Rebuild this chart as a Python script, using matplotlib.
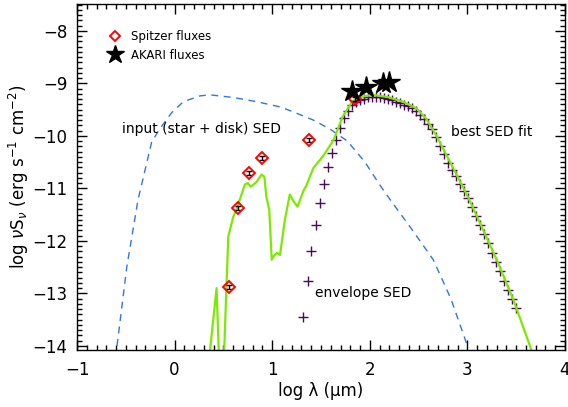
import numpy as np
import matplotlib
matplotlib.use("Agg")
import matplotlib.pyplot as plt
from matplotlib.ticker import MultipleLocator

plt.rcParams['font.family'] = ['DejaVu Sans']
plt.rcParams['mathtext.fontset'] = 'dejavusans'

# input (star + disk) SED, blue dashed
input_x = [-0.59, -0.49, -0.375, -0.235, -0.16, -0.03, 0.09, 0.26, 0.36, 0.60, 0.84,
           1.08, 1.21, 1.42, 1.59, 1.77, 1.95, 2.10, 2.21, 2.43, 2.65, 2.83, 3.0]
input_y = [-14.0, -12.5, -11.22, -10.12, -9.89, -9.56, -9.35, -9.24, -9.22, -9.27, -9.35,
           -9.45, -9.54, -9.70, -9.87, -10.10, -10.50, -10.93, -11.22, -11.78, -12.36, -13.1, -14.0]

# best SED fit, green
fit_x = [0.34, 0.43, 0.46, 0.50, 0.55, 0.60, 0.64, 0.68, 0.72, 0.75, 0.78, 0.84, 0.89,
         0.92, 0.94, 0.97, 0.995, 1.02, 1.05, 1.08, 1.13, 1.18, 1.22, 1.26, 1.32, 1.35,
         1.42, 1.52, 1.63, 1.72, 1.82, 1.90, 2.03, 2.18, 2.34, 2.48, 2.58, 2.68, 2.85,
         3.02, 3.16, 3.30, 3.47, 3.66]
fit_y = [-14.5, -12.9, -14.5, -14.5, -11.92, -11.55, -11.37, -11.15, -10.93, -10.90, -10.97,
         -10.88, -10.74, -10.78, -11.16, -11.41, -12.36, -12.28, -12.23, -12.27, -11.60, -11.12,
         -11.25, -11.35, -11.05, -10.95, -10.62, -10.39, -10.08, -9.64, -9.35, -9.26, -9.22,
         -9.26, -9.35, -9.48, -9.68, -9.99, -10.60, -11.22, -11.79, -12.36, -13.12, -14.1]

# envelope SED, purple crosses
env_x = [1.320, 1.362, 1.402, 1.444, 1.485, 1.526, 1.567, 1.608, 1.650, 1.691,
         1.732, 1.773, 1.814, 1.856, 1.897, 1.938, 1.979, 2.020, 2.062, 2.103,
         2.144, 2.185, 2.226, 2.268, 2.309, 2.350, 2.391, 2.432, 2.474, 2.515,
         2.556, 2.597, 2.638, 2.680, 2.721, 2.762, 2.803, 2.844, 2.886, 2.927,
         2.968, 3.009, 3.050, 3.091, 3.132, 3.174, 3.215, 3.256, 3.297, 3.338,
         3.380, 3.421, 3.462, 3.503]
env_y = [-13.45, -12.76, -12.19, -11.70, -11.28, -10.91, -10.59, -10.32, -10.08, -9.85,
         -9.67, -9.53, -9.42, -9.35, -9.31, -9.29, -9.27, -9.26, -9.26, -9.27,
         -9.28, -9.30, -9.32, -9.35, -9.38, -9.41, -9.44, -9.48, -9.53, -9.60,
         -9.68, -9.77, -9.88, -10.02, -10.19, -10.35, -10.51, -10.65, -10.77, -10.91,
         -11.06, -11.19, -11.35, -11.52, -11.70, -11.88, -12.05, -12.23, -12.40, -12.58,
         -12.76, -12.93, -13.11, -13.28]

# Spitzer fluxes
spitzer_x = [0.557, 0.65, 0.76, 0.895, 1.38, 1.85]
spitzer_y = [-12.88, -11.37, -10.71, -10.42, -10.08, -9.30]
spitzer_err = [0.04, 0.04, 0.04, 0.04, 0.04, 0.04]

# AKARI fluxes
akari_x = [1.82, 1.96, 2.14, 2.20]
akari_y = [-9.14, -9.08, -8.99, -8.97]

fig = plt.figure(figsize=(5.68, 4.07), dpi=100)
ax = fig.add_axes([77/568, 57/407, 488/568, 346/407])

ax.plot(input_x, input_y, color='#2f74f0', lw=1.0, dashes=(5, 4))
ax.plot(env_x, env_y, ls='none', marker='+', ms=7, mew=1.0, color='#4a0a5e')
ax.plot(fit_x, fit_y, color='#7cea00', lw=1.6)
ax.errorbar(spitzer_x, spitzer_y, yerr=spitzer_err, fmt='none', ecolor='black',
            elinewidth=1.0, capsize=2, capthick=1.0, zorder=4)
ax.plot(spitzer_x, spitzer_y, ls='none', marker='D', ms=6, mfc='none', mec='red', mew=1.4,
        label='Spitzer fluxes', zorder=5)
ax.plot(akari_x, akari_y, ls='none', marker='*', ms=16, color='black',
        label='AKARI fluxes', zorder=6)

ax.text(0.28, -9.88, 'input (star + disk) SED', fontsize=10, ha='center', va='center')
ax.text(3.25, -9.92, 'best SED fit', fontsize=10, ha='center', va='center')
ax.text(1.93, -12.99, 'envelope SED', fontsize=10, ha='center', va='center')

ax.legend(loc='upper left', bbox_to_anchor=(0.045, 0.955), frameon=False, fontsize=8.5,
          numpoints=1, handlelength=1.0, handletextpad=0.8, labelspacing=0.45, markerscale=0.85)

ax.set_xlim(-1, 4)
ax.set_ylim(-14.08, -7.49)
ax.xaxis.set_major_locator(MultipleLocator(1))
ax.xaxis.set_minor_locator(MultipleLocator(0.1))
ax.yaxis.set_major_locator(MultipleLocator(1))
ax.yaxis.set_minor_locator(MultipleLocator(0.1))
ax.tick_params(which='both', direction='in', top=True, right=True, labelsize=12, width=1.0)
ax.tick_params(which='major', length=7)
ax.tick_params(which='minor', length=3.5)
ax.tick_params(axis='x', pad=8)
ax.tick_params(axis='y', pad=7)
for s in ax.spines.values():
    s.set_linewidth(1.0)

ax.set_xlabel('log λ (μm)', fontsize=12, labelpad=2)
ax.set_ylabel(r'log $\nu$S$_\nu$ (erg s$^{-1}$ cm$^{-2}$)', fontsize=12, labelpad=1)

plt.savefig('out.png', dpi=100)
